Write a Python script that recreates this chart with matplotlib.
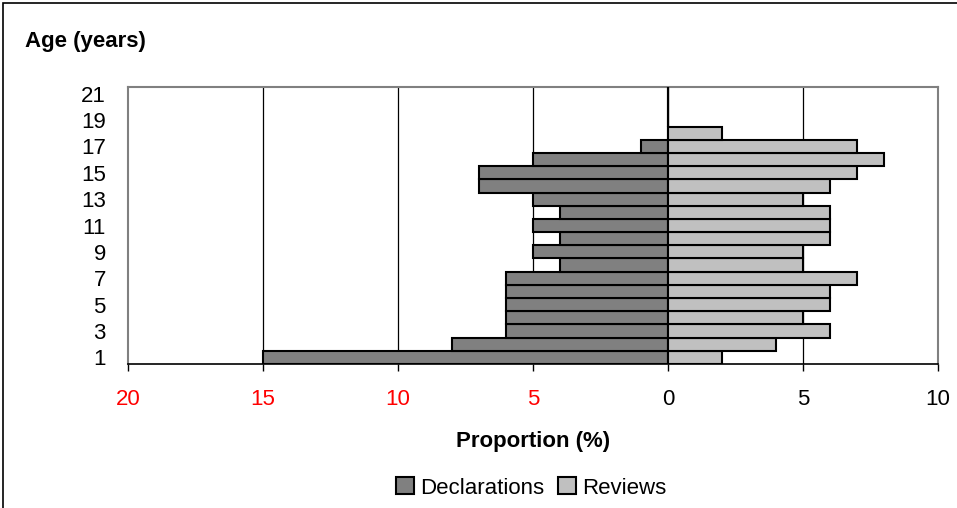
import numpy as np
import matplotlib
matplotlib.use('Agg')
import matplotlib.pyplot as plt
from matplotlib.patches import Rectangle

# Age categories 1..21 and proportions (%)
ages = np.arange(1, 22)
declarations = [15, 8, 6, 6, 6, 6, 6, 4, 5, 4, 5, 4, 5, 7, 7, 5, 1, 0, 0, 0, 0]
reviews = [2, 4, 6, 5, 6, 6, 7, 5, 5, 6, 6, 6, 5, 6, 7, 8, 7, 2, 0, 0, 0]

x_ticks = [-20, -15, -10, -5, 0, 5, 10]
x_labels = ['20', '15', '10', '5', '0', '5', '10']
x_label_colors = ['red', 'red', 'red', 'red', 'black', 'black', 'black']
y_ticks = list(range(1, 22, 2))

plt.rcParams['font.family'] = ['Liberation Sans', 'DejaVu Sans']
fs = 16

fig = plt.figure(figsize=(9.57, 5.08), dpi=100)
ax = fig.add_axes([0.1338, 0.2835, 0.8464, 0.5452])

# Declarations go to the left (negative), reviews to the right
ax.barh(ages, -np.array(declarations), height=1.0, color='#808080',
        edgecolor='black', linewidth=1.5, label='Declarations', zorder=3)
ax.barh(ages, reviews, height=1.0, color='#C0C0C0',
        edgecolor='black', linewidth=1.5, label='Reviews', zorder=3)

ax.set_xlim(-20, 10)
ax.set_ylim(0.5, 21.5)

ax.set_xticks(x_ticks)
ax.set_xticklabels(x_labels, fontsize=fs)
for lbl, c in zip(ax.get_xticklabels(), x_label_colors):
    lbl.set_color(c)
ax.set_yticks(y_ticks)
ax.set_yticklabels([str(t) for t in y_ticks], fontsize=fs)

ax.tick_params(axis='x', direction='out', length=5, width=1, pad=13)
ax.tick_params(axis='y', length=0, pad=16)

# vertical gridlines
for xv in [-15, -10, -5, 0, 5]:
    ax.axvline(xv, color='black', linewidth=0.9, zorder=1)

for side in ['top', 'right', 'left']:
    ax.spines[side].set_color('#808080')
    ax.spines[side].set_linewidth(1.5)
ax.spines['bottom'].set_color('black')
ax.spines['bottom'].set_linewidth(1.2)

ax.set_xlabel('Proportion (%)', fontsize=fs, fontweight='bold', labelpad=15)
fig.text(25 / 957, 1 - 42 / 508, 'Age (years)', fontsize=fs, fontweight='bold',
         ha='left', va='center')

leg = fig.legend(loc='center', bbox_to_anchor=(0.555, 1 - 488 / 508), ncol=2,
                 frameon=False, fontsize=fs, handlelength=0.8, handleheight=0.8,
                 handletextpad=0.3, columnspacing=0.6)

# outer chart border
fig.patches.append(Rectangle((3 / 957, -0.01), 1.2, 1 - 3 / 508 + 0.01,
                             transform=fig.transFigure, fill=False,
                             edgecolor='black', linewidth=1.2))

fig.savefig('out.png', dpi=100)
